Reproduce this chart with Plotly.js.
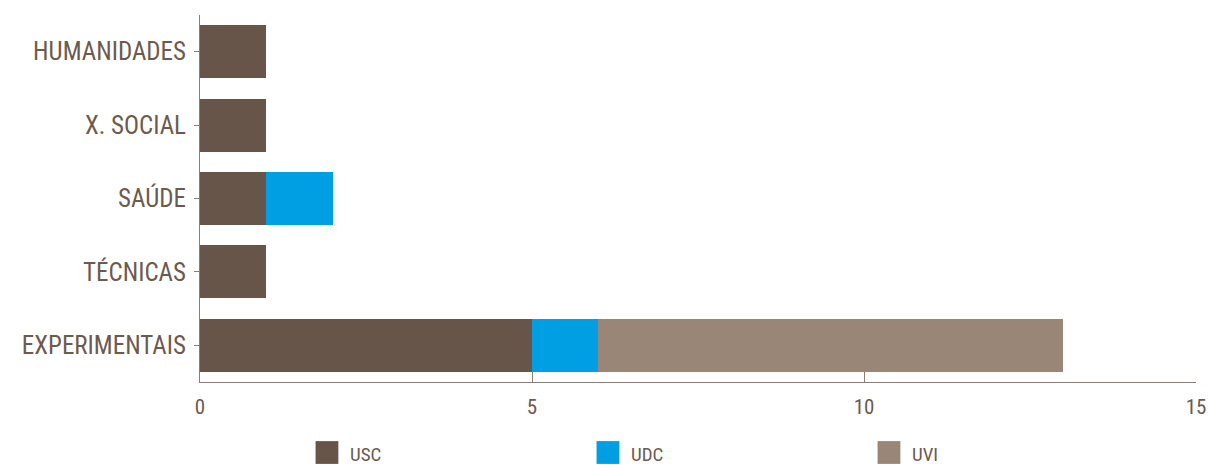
<!DOCTYPE html>
<html>
<head>
<meta charset="utf-8">
<script src="https://cdn.plot.ly/plotly-3.0.1.min.js"></script>
<style>
html,body{margin:0;padding:0;background:#fff;}
#chart{width:1208px;height:465px;}
.legendpoints path{transform:translate(17px,-1px) scale(1.9);}
.legend .scrollbox{clip-path:none !important;}
</style>
</head>
<body>
<div id="chart"></div>
<script>
const categories = ["HUMANIDADES", "X. SOCIAL", "SAÚDE", "TÉCNICAS", "EXPERIMENTAIS"];
const seriesNames = ["USC", "UDC", "UVI"];
const uscValues = [1, 1, 1, 1, 5];
const udcValues = [0, 0, 1, 0, 1];
const uviValues = [0, 0, 0, 0, 7];
const xTicks = [0, 5, 10, 15];

const colors = ["#67554a", "#009fe3", "#9a8677"];
const txt = "#6b5b4e";
const axisCol = "#8c7d72";
const fam = "'Liberation Sans Narrow', 'Roboto Condensed', Roboto, sans-serif";

const values = [uscValues, udcValues, uviValues];
const traces = seriesNames.map((n, i) => ({
  type: "bar",
  orientation: "h",
  name: n,
  y: categories,
  x: values[i],
  marker: {color: colors[i], line: {width: 0}},
  hoverinfo: "x+name"
}));

const layout = {
  width: 1208, height: 465,
  margin: {l: 200, r: 12, t: 15, b: 83, autoexpand: false},
  barmode: "stack",
  bargap: 0.28,
  paper_bgcolor: "#fff",
  plot_bgcolor: "#fff",
  font: {family: fam, color: txt},
  xaxis: {
    range: [0, 15],
    tickvals: xTicks,
    ticktext: xTicks.map(String),
    ticks: "inside",
    ticklen: 10,
    tickwidth: 1,
    tickcolor: axisCol,
    showline: true,
    linecolor: axisCol,
    linewidth: 1,
    showgrid: false,
    zeroline: false,
    tickfont: {size: 21, color: txt, family: fam},
    ticklabelstandoff: 6,
    fixedrange: true
  },
  yaxis: {
    autorange: "reversed",
    ticks: "outside",
    ticklen: 5,
    tickcolor: axisCol,
    showline: true,
    linecolor: axisCol,
    linewidth: 1,
    showgrid: false,
    zeroline: false,
    tickfont: {size: 25, color: txt, family: fam},
    ticklabelstandoff: 3,
    fixedrange: true
  },
  showlegend: true,
  legend: {
    orientation: "h",
    xref: "paper", yref: "paper",
    x: 0.1104, xanchor: "left",
    y: -0.247, yanchor: "bottom",
    entrywidth: 236,
    entrywidthmode: "pixels",
    font: {size: 19, color: txt, family: fam},
    traceorder: "normal",
    itemclick: false
  }
};

Plotly.newPlot("chart", traces, layout, {displayModeBar: false, staticPlot: true});
</script>
</body>
</html>
